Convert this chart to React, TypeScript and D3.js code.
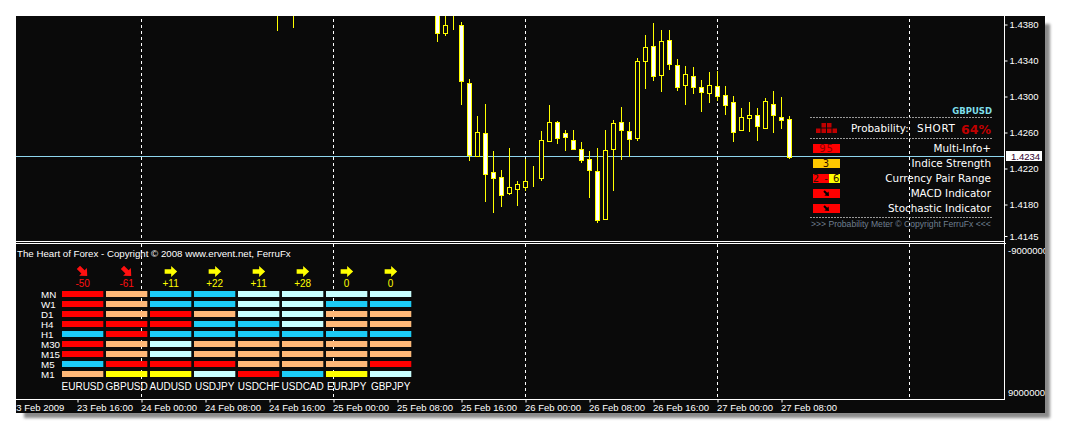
import * as d3 from "d3";
import * as React from "react";

// hourly GBPUSD bars, first one is 25 Feb 13:00
const opens = [14393, 14370, 14380, 14379, 14315, 14234, 14260, 14216, 14211, 14193, 14197, 14200, 14211, 14210, 14251, 14272, 14260, 14252, 14242, 14231, 14217, 14164, 14242, 14272, 14262, 14254, 14340, 14356, 14324, 14363, 14335, 14313, 14323, 14311, 14304, 14312, 14302, 14294, 14263, 14276, 14279, 14265, 14292, 14277, 14275];
const highs = [14401, 14396, 14391, 14383, 14320, 14278, 14292, 14239, 14218, 14243, 14206, 14231, 14223, 14262, 14291, 14273, 14263, 14263, 14250, 14240, 14243, 14263, 14274, 14288, 14272, 14343, 14368, 14382, 14374, 14374, 14342, 14334, 14333, 14318, 14327, 14328, 14312, 14301, 14287, 14294, 14287, 14298, 14306, 14299, 14278];
const lows = [14361, 14367, 14374, 14291, 14228, 14234, 14183, 14171, 14177, 14191, 14178, 14195, 14200, 14206, 14250, 14247, 14239, 14241, 14226, 14187, 14159, 14163, 14195, 14230, 14233, 14251, 14308, 14317, 14305, 14330, 14306, 14291, 14303, 14283, 14293, 14295, 14279, 14249, 14263, 14261, 14251, 14265, 14260, 14264, 14231];
const closes = [14370, 14379, 14380, 14317, 14235, 14261, 14214, 14209, 14191, 14199, 14203, 14206, 14211, 14252, 14272, 14254, 14255, 14242, 14229, 14218, 14163, 14241, 14271, 14263, 14253, 14340, 14355, 14323, 14362, 14336, 14311, 14325, 14311, 14305, 14313, 14301, 14291, 14261, 14277, 14280, 14267, 14295, 14280, 14274, 14233];

// two older bars whose wicks just reach into the window from above
const olderTimes = [Date.UTC(2009, 1, 24, 17), Date.UTC(2009, 1, 24, 19)];
const olderOpens = [14440, 14445];
const olderHighs = [14455, 14450];
const olderLows = [14373, 14376];
const olderCloses = [14425, 14430];

const priceTicks = [1.438, 1.434, 1.43, 1.426, 1.422, 1.418, 1.4145];
const currentPrice = 1.4234;

const pairs = ["EURUSD", "GBPUSD", "AUDUSD", "USDJPY", "USDCHF", "USDCAD", "EURJPY", "GBPJPY"];
const strength = [-50, -61, 11, 22, 11, 28, 0, 0];
const frames = ["MN", "W1", "D1", "H4", "H1", "M30", "M15", "M5", "M1"];
// one string per pair, one letter per timeframe
const signals = ["RRRRBRRBP", "PPPRRPPRY", "BBRRBLLRY", "BBPBBPPRL", "LLLBBPPPR", "LLLLBPPPB", "LBPPBPPPY", "LBPPBPPRL"];
const signalColors: Record<string, string> = { R: "#ff0000", P: "#ffb878", B: "#1ccbf6", L: "#c8ffff", Y: "#ffff00" };

const meterLabels = ["Multi-Info+", "Indice Strength", "Currency Pair Range", "MACD Indicator", "Stochastic Indicator"];
const meterBoxes = ["95", "3", "2 - 6", "", ""];

export default function App() {
  const width = 1070;
  const height = 438;
  const frameLeft = 16;
  const frameTop = 16;
  const frameRight = 1045;
  const frameBottom = 413;
  const plotRight = 1005;
  const plotBottom = 399;
  const splitY = 241;

  const svgRef = React.useRef<SVGSVGElement>(null);

  React.useEffect(() => {
    const svgElement = svgRef.current;
    if (svgElement == null) return;
    const svg = d3.select(svgElement);
    svg.selectAll("*").remove();

    const x = d3.scaleUtc([Date.UTC(2009, 1, 24), Date.UTC(2009, 1, 27)], [141.5, 717.5]);
    const y = d3.scaleLinear([1.438, 1.4145], [24.5, 236]);
    const pip = (v: number) => y(v / 10000);

    const defs = svg.append("defs");
    defs.append("filter").attr("id", "shadow").attr("x", "-2%").attr("y", "-2%").attr("width", "104%").attr("height", "104%")
      .append("feGaussianBlur").attr("stdDeviation", 1.8);
    defs.append("clipPath").attr("id", "frame").append("rect")
      .attr("x", frameLeft).attr("y", frameTop).attr("width", frameRight - frameLeft).attr("height", frameBottom - frameTop);
    defs.append("clipPath").attr("id", "price").append("rect")
      .attr("x", frameLeft).attr("y", frameTop).attr("width", plotRight - frameLeft).attr("height", splitY - frameTop);

    svg.append("rect").attr("x", 24).attr("y", 24).attr("width", 1026).attr("height", 394)
      .attr("fill", "#8a8a8a").attr("filter", "url(#shadow)");
    svg.append("rect").attr("x", frameLeft).attr("y", frameTop).attr("width", frameRight - frameLeft)
      .attr("height", frameBottom - frameTop).attr("fill", "#0a0a0a");

    // day separators
    const days = d3.utcDay.range(new Date(Date.UTC(2009, 1, 24)), new Date(Date.UTC(2009, 2, 1)));
    const grid = svg.append("g").attr("stroke", "#fff").attr("stroke-dasharray", "3,3").attr("shape-rendering", "crispEdges");
    days.filter((d) => x(d) < plotRight).forEach((d) => {
      grid.append("line").attr("x1", x(d)).attr("x2", x(d)).attr("y1", 19).attr("y2", splitY);
      grid.append("line").attr("x1", x(d)).attr("x2", x(d)).attr("y1", splitY + 3).attr("y2", plotBottom);
    });

    // bid line
    svg.append("line").attr("x1", frameLeft).attr("x2", plotRight).attr("y1", 156.5).attr("y2", 156.5)
      .attr("stroke", "#8fd6ee").attr("shape-rendering", "crispEdges");

    // candles
    const bars = opens.map((o, i) => ({
      t: Date.UTC(2009, 1, 25, 13 + i), o, h: highs[i], l: lows[i], c: closes[i],
    })).concat(olderTimes.map((t, i) => ({
      t, o: olderOpens[i], h: olderHighs[i], l: olderLows[i], c: olderCloses[i],
    })));
    const candles = svg.append("g").attr("clip-path", "url(#price)").attr("shape-rendering", "crispEdges");
    const candle = candles.selectAll("g").data(bars).join("g");
    candle.append("line")
      .attr("x1", (d) => x(d.t)).attr("x2", (d) => x(d.t))
      .attr("y1", (d) => pip(d.h)).attr("y2", (d) => pip(d.l))
      .attr("stroke", "#ffff00");
    candle.append("rect")
      .attr("x", (d) => x(d.t) - 2).attr("width", 4)
      .attr("y", (d) => Math.round(pip(Math.max(d.o, d.c))) + 0.5)
      .attr("height", (d) => Math.max(Math.round(pip(Math.min(d.o, d.c))) - Math.round(pip(Math.max(d.o, d.c))), 0))
      .attr("fill", (d) => (d.c < d.o ? "#fff" : "#0a0a0a"))
      .attr("stroke", "#ffff00");

    // frame lines
    const border = svg.append("g").attr("stroke", "#fff").attr("fill", "none").attr("shape-rendering", "crispEdges");
    border.append("line").attr("x1", frameLeft).attr("x2", plotRight).attr("y1", splitY + 0.5).attr("y2", splitY + 0.5);
    border.append("line").attr("x1", frameLeft).attr("x2", plotRight + 1).attr("y1", splitY + 2.5).attr("y2", splitY + 2.5);
    border.append("line").attr("x1", frameLeft).attr("x2", plotRight).attr("y1", plotBottom + 0.5).attr("y2", plotBottom + 0.5);
    border.append("line").attr("x1", plotRight - 0.5).attr("x2", plotRight - 0.5).attr("y1", frameTop).attr("y2", plotBottom + 1);

    const axisFont = "'Liberation Sans', sans-serif";

    // price axis
    svg.append("g").attr("transform", `translate(${plotRight - 0.5},0)`)
      .call(d3.axisRight(y).tickValues(priceTicks).tickFormat(d3.format(".4f")).tickSize(3).tickPadding(2))
      .call((g) => g.select(".domain").remove())
      .call((g) => g.selectAll(".tick line").attr("stroke", "#fff"))
      .call((g) => g.selectAll("text").attr("fill", "#fff").attr("font-size", 9.5).attr("font-family", axisFont));

    svg.append("rect").attr("x", 1006).attr("y", 151).attr("width", 36).attr("height", 10).attr("fill", "#fff");
    svg.append("text").attr("x", 1011).attr("y", 159.5).attr("fill", "#300030")
      .attr("font-size", 9.5).attr("font-family", axisFont).text(currentPrice.toFixed(4));

    // time axis, labels start at the tick
    const timeTicks = d3.utcHour.every(8)!.range(new Date(Date.UTC(2009, 1, 23, 8)), new Date(Date.UTC(2009, 1, 27, 9)));
    const formatTick = d3.utcFormat("%d %b %H:%M");
    const clipped = svg.append("g").attr("clip-path", "url(#frame)");
    clipped.append("g").attr("transform", `translate(0,${plotBottom + 0.5})`)
      .call(d3.axisBottom(x).tickValues(timeTicks)
        .tickFormat((d, i) => (i === 0 ? "23 Feb 2009" : formatTick(d as Date))).tickSize(3).tickPadding(2))
      .call((g) => g.select(".domain").remove())
      .call((g) => g.selectAll(".tick line").attr("stroke", "#fff"))
      .call((g) => g.selectAll("text").attr("fill", "#fff").attr("font-size", 9.5).attr("font-family", axisFont)
        .attr("text-anchor", "start").attr("dx", (_, i) => (i === 0 ? -3 : -1)));

    // indicator window scale labels
    clipped.append("text").attr("x", 1008).attr("y", 254).attr("fill", "#fff").attr("font-size", 9.5)
      .attr("font-family", axisFont).text("-9000000");
    clipped.append("text").attr("x", 1008).attr("y", 396).attr("fill", "#fff").attr("font-size", 9.5)
      .attr("font-family", axisFont).text("9000000");

    svg.append("text").attr("x", 17).attr("y", 257).attr("fill", "#fff").attr("font-size", 9.7)
      .attr("font-family", axisFont).text("The Heart of Forex - Copyright © 2008 www.ervent.net, FerruFx");

    // heart of forex table
    const col = d3.scaleBand(pairs, [62, 411.3]).paddingInner(0.061).paddingOuter(0);
    const row = d3.scaleBand(frames, [291, 377]).paddingInner(0.4).paddingOuter(0);

    const table = svg.append("g").attr("font-family", axisFont);
    table.selectAll("text.frame").data(frames).join("text").attr("class", "frame")
      .attr("x", 41).attr("y", (d) => row(d)! + row.bandwidth() / 2 + 3.5)
      .attr("fill", "#fff").attr("font-size", 9.8).text((d) => d);

    pairs.forEach((p, i) => {
      const cx = col(p)! + col.bandwidth() / 2;
      table.selectAll(`rect.c${i}`).data(frames).join("rect").attr("class", `c${i}`)
        .attr("x", col(p)!).attr("width", col.bandwidth())
        .attr("y", (_, j) => row(frames[j])!).attr("height", row.bandwidth())
        .attr("fill", (_, j) => signalColors[signals[i][j]]);
      table.append("text").attr("x", cx).attr("y", 389.5).attr("text-anchor", "middle")
        .attr("fill", "#fff").attr("font-size", 10).text(p);
      const down = strength[i] < 0;
      const color = down ? "#ff1010" : "#ffff00";
      table.append("text").attr("x", cx).attr("y", 286.5).attr("text-anchor", "middle")
        .attr("fill", color).attr("font-size", 10)
        .text(strength[i] > 0 ? `+${strength[i]}` : `${strength[i]}`);
      table.append("path")
        .attr("transform", `translate(${cx},271.5)${down ? " rotate(45)" : ""}`)
        .attr("d", "M-6,-2.3H0.5V-5.5L6.5,0L0.5,5.5V2.3H-6Z")
        .attr("fill", color);
    });

    // probability meter
    const meter = svg.append("g").attr("font-family", "'DejaVu Sans', sans-serif");
    [117.5, 138.5, 217.5].forEach((ly) => {
      meter.append("line").attr("x1", 810).attr("x2", 993).attr("y1", ly).attr("y2", ly)
        .attr("stroke", "#9a9a9a").attr("stroke-dasharray", "2,1").attr("shape-rendering", "crispEdges");
    });
    meter.append("text").attr("x", 992).attr("y", 114).attr("text-anchor", "end").attr("fill", "#7fdfea")
      .attr("font-size", 8.5).attr("font-weight", "bold").text("GBPUSD");
    const iconCells = [[1, 0], [2, 0], [0, 1], [1, 1], [2, 1], [3, 1]];
    meter.selectAll("rect.icon").data(iconCells).join("rect").attr("class", "icon")
      .attr("x", (d) => 816 + d[0] * 5.5).attr("y", (d) => 123 + d[1] * 5.5).attr("width", 4.5).attr("height", 4.5)
      .attr("fill", "#c00000");
    meter.append("text").attr("x", 851).attr("y", 132).attr("fill", "#fff").attr("font-size", 10.4).text("Probability:");
    meter.append("text").attr("x", 917).attr("y", 132).attr("fill", "#fff").attr("font-size", 10.4).attr("letter-spacing", 0.6).text("SHORT");
    meter.append("text").attr("x", 991).attr("y", 133.5).attr("text-anchor", "end").attr("fill", "#c00000")
      .attr("font-size", 12.5).attr("font-weight", "bold").text("64%");

    const meterRow = d3.scalePoint(meterLabels, [148.5, 208.5]);
    meterLabels.forEach((label, i) => {
      const cy = meterRow(label)!;
      meter.append("text").attr("x", 991).attr("y", cy + 3.5).attr("text-anchor", "end")
        .attr("fill", "#fff").attr("font-size", 10.4).text(label);
      meter.append("rect").attr("x", 813).attr("y", cy - 4.5).attr("width", 27).attr("height", 9)
        .attr("fill", i === 1 ? "#ffc800" : "#ff0000");
      if (i === 2) {
        meter.append("rect").attr("x", 829).attr("y", cy - 4.5).attr("width", 11).attr("height", 9).attr("fill", "#ffff00");
      }
      if (meterBoxes[i] !== "") {
        meter.append("text").attr("x", 826.5).attr("y", cy + 3.5).attr("text-anchor", "middle")
          .attr("fill", i === 0 ? "#8a0000" : "#301000").attr("font-size", 10).attr("letter-spacing", 1).text(meterBoxes[i]);
      } else {
        meter.append("path").attr("transform", `translate(826.5,${cy}) rotate(45)`)
          .attr("d", "M-3.5,-1H0V-3L3.5,0L0,3V1H-3.5Z").attr("fill", "#000");
      }
    });

    meter.append("text").attr("x", 811).attr("y", 227).attr("fill", "#6f7f8f").attr("font-size", 8.6)
      .attr("font-family", axisFont).text(">>>  Probability Meter © Copyright FerruFx  <<<");
  }, []);

  return (
    <svg
      ref={svgRef}
      width={width}
      height={height}
      viewBox={`0 0 ${width} ${height}`}
      style={{ position: "absolute", left: 0, top: 0, background: "#fff" }}
    />
  );
}
